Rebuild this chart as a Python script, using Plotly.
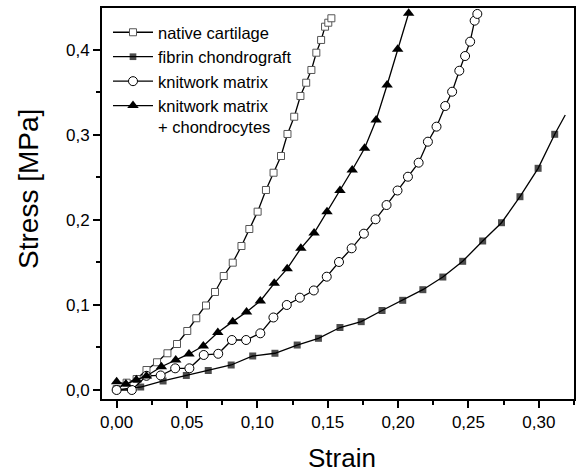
import plotly.graph_objects as go

# ---- data ----
native_x = [0.000, 0.0071, 0.0142, 0.0212, 0.0287, 0.0361, 0.0429, 0.0502, 0.0566, 0.0635,
            0.0699, 0.0761, 0.0825, 0.0887, 0.0943, 0.1002, 0.1061, 0.1115, 0.1168, 0.1214,
            0.1262, 0.1306, 0.1347, 0.1384, 0.1419, 0.1453, 0.1481, 0.1504, 0.1526]
native_y = [0.001, 0.0086, 0.0129, 0.0235, 0.0326, 0.0432, 0.0541, 0.0694, 0.0844, 0.0994,
            0.1153, 0.1341, 0.1498, 0.1694, 0.1894, 0.2098, 0.2353, 0.2556, 0.2753, 0.3012,
            0.3215, 0.3459, 0.3615, 0.3765, 0.3968, 0.4118, 0.4274, 0.4321, 0.4373]

fibrin_x = [0.000, 0.0171, 0.0330, 0.0495, 0.0651, 0.0814, 0.0967, 0.1125, 0.1283, 0.1434,
            0.1587, 0.1738, 0.1886, 0.2033, 0.2176, 0.2318, 0.2459, 0.2601, 0.2735, 0.2866,
            0.2995, 0.3113, 0.3188]
fibrin_y = [0.000, 0.0035, 0.0106, 0.0171, 0.0229, 0.0294, 0.0400, 0.0432, 0.0529, 0.0608,
            0.0735, 0.0804, 0.0935, 0.1055, 0.1180, 0.1329, 0.1514, 0.1753, 0.1968, 0.2274,
            0.2608, 0.3008, 0.3235]

knit_x = [0.000, 0.0108, 0.0212, 0.0313, 0.0416, 0.0517, 0.0619, 0.0722, 0.0819, 0.0920,
          0.1021, 0.1114, 0.1209, 0.1302, 0.1401, 0.1493, 0.1580, 0.1670, 0.1757, 0.1840,
          0.1918, 0.1996, 0.2070, 0.2146, 0.2212, 0.2273, 0.2335, 0.2384, 0.2435, 0.2476,
          0.2512, 0.2544, 0.2563]
knit_y = [0.000, 0.000, 0.0167, 0.0171, 0.0255, 0.0255, 0.0412, 0.0426, 0.0588, 0.0588,
          0.0667, 0.0853, 0.1000, 0.1086, 0.1171, 0.1333, 0.1506, 0.1667, 0.1839, 0.2008,
          0.2176, 0.2347, 0.2509, 0.2674, 0.2921, 0.3098, 0.3341, 0.3509, 0.3756, 0.3929,
          0.4098, 0.4345, 0.4424]

chondro_x = [0.000, 0.0066, 0.0140, 0.0212, 0.0318, 0.0420, 0.0514, 0.0616, 0.0719, 0.0825,
             0.0923, 0.1021, 0.1120, 0.1212, 0.1309, 0.1403, 0.1495, 0.1587, 0.1674, 0.1762,
             0.1844, 0.1922, 0.1997, 0.2075]
chondro_y = [0.0098, 0.0070, 0.0120, 0.0165, 0.0274, 0.0353, 0.0424, 0.0518, 0.0676, 0.0804,
             0.0918, 0.1047, 0.1255, 0.1427, 0.1667, 0.1847, 0.2098, 0.2347, 0.2588, 0.2844,
             0.3176, 0.3588, 0.4008, 0.4432]

names = ["native cartilage", "fibrin chondrograft", "knitwork matrix",
         "knitwork matrix<br>+ chondrocytes"]

x_ticks = [0.00, 0.05, 0.10, 0.15, 0.20, 0.25, 0.30]
y_ticks = [0.0, 0.1, 0.2, 0.3, 0.4]

FONT = "Arial, 'Liberation Sans', sans-serif"
XR = [-0.0104, 0.325]
YR = [-0.0106, 0.4494]

fig = go.Figure()

line = dict(color="black", width=1.3)

fig.add_trace(go.Scatter(
    x=native_x, y=native_y, name=names[0], mode="lines+markers", line=line,
    marker=dict(symbol="square", size=7, color="white", line=dict(color="#555555", width=1))))
fig.add_trace(go.Scatter(
    x=fibrin_x, y=fibrin_y, name=names[1], mode="lines+markers", line=line,
    marker=dict(symbol="square", size=[7] * (len(fibrin_x) - 1) + [0], color="black",
                line=dict(width=0))))
fig.add_trace(go.Scatter(
    x=knit_x, y=knit_y, name=names[2], mode="lines+markers", line=line,
    marker=dict(symbol="circle", size=9, color="white", line=dict(color="black", width=1))))
fig.add_trace(go.Scatter(
    x=chondro_x, y=chondro_y, name=names[3], mode="lines+markers", line=line,
    marker=dict(symbol="triangle-up", size=10, color="black", line=dict(width=0))))

axis_common = dict(showgrid=False, zeroline=False, linecolor="black", linewidth=2,
                   tickcolor="black", tickwidth=1.5, ticklen=7,
                   tickfont=dict(family=FONT, size=17, color="black"))

fig.update_layout(
    width=577, height=473,
    margin=dict(l=102, r=1, t=8, b=74),
    paper_bgcolor="white", plot_bgcolor="white",
    separators=", ",
    font=dict(family=FONT, color="black"),
    xaxis=dict(range=XR, tickvals=x_ticks, tickformat=".2f", ticks="outside",
               showline=True, mirror=True,
               minor=dict(ticks="outside", dtick=0.025, tick0=0, ticklen=4,
                          tickwidth=1.5, tickcolor="black"),
               **axis_common),
    yaxis=dict(range=YR, tickvals=y_ticks, tickformat=".1f", ticks="outside",
               showline=True, mirror=True,
               minor=dict(ticks="outside", dtick=0.05, tick0=0, ticklen=4,
                          tickwidth=1.5, tickcolor="black"),
               **axis_common),
    xaxis2=dict(range=XR, overlaying="x", side="top", anchor="y", tickvals=x_ticks,
                ticks="inside", showticklabels=False, showline=True,
                minor=dict(ticks="inside", dtick=0.025, tick0=0, ticklen=4,
                           tickwidth=1.5, tickcolor="black"),
                **axis_common),
    yaxis2=dict(range=YR, overlaying="y", side="right", anchor="x", tickvals=y_ticks,
                ticks="inside", showticklabels=False, showline=True,
                minor=dict(ticks="inside", dtick=0.05, tick0=0, ticklen=4,
                           tickwidth=1.5, tickcolor="black"),
                **axis_common),
    legend=dict(x=0.0127, y=0.982, xanchor="left", yanchor="top", bgcolor="rgba(0,0,0,0)",
                font=dict(family=FONT, size=16.5, color="black"), valign="top",
                itemwidth=40, tracegroupgap=0),
    showlegend=True,
    annotations=[
        dict(text="Strain", xref="paper", yref="paper", x=0.5084, y=-0.151,
             xanchor="center", yanchor="middle", showarrow=False,
             font=dict(family=FONT, size=26, color="black")),
        dict(text="Stress [MPa]", xref="paper", yref="paper", x=-0.157, y=0.537,
             xanchor="center", yanchor="middle", showarrow=False, textangle=-90,
             font=dict(family=FONT, size=28, color="black")),
    ],
)

fig.write_html("out.html")
